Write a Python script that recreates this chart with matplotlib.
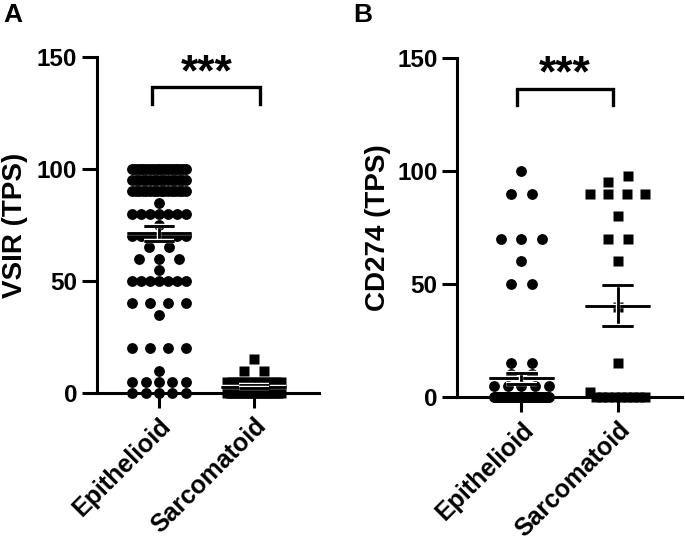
import numpy as np
import matplotlib.pyplot as plt
import matplotlib.patheffects as pe

plt.rcParams['font.family'] = ['Liberation Sans', 'DejaVu Sans']
plt.rcParams['font.weight'] = 'bold'

groups = ['Epithelioid', 'Sarcomatoid']

# TPS values (level -> number of cases)
vsir_epi_levels = [100, 95, 90, 85, 80, 75, 70, 65, 60, 55, 50, 40, 35, 20, 10, 5, 0]
vsir_epi_counts = [20, 16, 16, 1, 7, 1, 7, 2, 3, 1, 7, 4, 1, 4, 1, 5, 5]
vsir_sarc_levels = [15, 10, 5, 0]
vsir_sarc_counts = [1, 2, 12, 20]

cd274_epi_levels = [100, 90, 70, 60, 50, 15, 10, 5, 0]
cd274_epi_counts = [1, 2, 3, 1, 2, 2, 2, 5, 70]
cd274_sarc_levels = [95, 98, 90, 80, 70, 60, 40, 15, 2, 0]
cd274_sarc_counts = [1, 1, 4, 1, 2, 1, 1, 1, 1, 9]


def spread(values, center, tol=3.5, width=0.57, step=0.21):
    # group near-equal values into rows and spread them sideways,
    # keeping the original order inside a row
    vals = np.asarray(values, dtype=float)
    order = np.argsort(vals, kind='stable')
    v = vals[order]
    xs, ys = [], []
    i = 0
    while i < len(v):
        j = i
        while j + 1 < len(v) and v[j + 1] - v[i] < tol:
            j += 1
        row = vals[np.sort(order[i:j + 1])]
        n = len(row)
        d = step if n < 2 else min(step, width / (n - 1))
        xs.extend(center + (np.arange(n) - (n - 1) / 2) * d)
        ys.extend(row)
        i = j + 1
    return np.array(xs), np.array(ys)


def panel(ax, data, markers, ylabel, xlim, bracket, label_x):
    outline = [pe.withStroke(linewidth=3.2, foreground='white'), pe.Normal()]
    for k, (vals, mk) in enumerate(zip(data, markers)):
        xs, ys = spread(vals, k)
        ax.plot(xs, ys, mk, color='black', ms=7.8 if mk == 'o' else 7.4,
                mec='none', clip_on=False, zorder=3)
        m = np.mean(vals)
        se = np.std(vals, ddof=1) / np.sqrt(len(vals))
        for seg in ([(k - 0.34, k + 0.34), (m, m)],
                    [(k, k), (m - se, m + se)],
                    [(k - 0.16, k + 0.16), (m + se, m + se)],
                    [(k - 0.16, k + 0.16), (m - se, m - se)]):
            ax.plot(*seg, color='black', lw=1.8, solid_capstyle='butt',
                    path_effects=outline, clip_on=False, zorder=4)

    x0, x1 = bracket
    ax.plot([x0, x0, x1, x1], [129, 136.5, 136.5, 129], color='black', lw=2.4,
            solid_joinstyle='miter', clip_on=False)
    ax.text((x0 + x1) / 2, 137.5, '***', ha='center', va='baseline',
            fontsize=32, fontweight='bold')

    ax.set_xlim(*xlim)
    ax.set_ylim(0, 150)
    ax.set_yticks([0, 50, 100, 150])
    ax.set_xticks([0, 1])
    ax.set_xticklabels(groups, rotation=45, ha='right', va='top',
                       rotation_mode='anchor')
    ax.set_ylabel(ylabel, fontsize=20, fontweight='bold')
    ax.yaxis.set_label_coords(label_x, 0.5)
    for s in ['top', 'right']:
        ax.spines[s].set_visible(False)
    for s in ['left', 'bottom']:
        ax.spines[s].set_linewidth(2.2)
    ax.tick_params(axis='both', length=11, width=2.2, pad=3)
    ax.tick_params(axis='y', labelsize=17.5)
    ax.tick_params(axis='x', labelsize=18, pad=4)
    for t in ax.get_xticklabels() + ax.get_yticklabels():
        t.set_fontweight('bold')


fig = plt.figure(figsize=(6.85, 5.41), dpi=100)

axA = fig.add_axes([0.1409, 0.2736, 0.3248, 0.6210])
vsir = [np.repeat(vsir_epi_levels, vsir_epi_counts),
        np.repeat(vsir_sarc_levels, vsir_sarc_counts)]
panel(axA, vsir, ['o', 's'], 'VSIR (TPS)', (-0.66, 1.69), (-0.07, 1.07), -0.31)

axB = fig.add_axes([0.6672, 0.2662, 0.3285, 0.6266])
cd274 = [np.repeat(cd274_epi_levels, cd274_epi_counts),
         np.repeat(cd274_sarc_levels, cd274_sarc_counts)]
panel(axB, cd274, ['o', 's'], 'CD274 (TPS)', (-0.67, 1.67), (-0.05, 0.95), -0.292)

fig.text(0.005, 0.995, 'A', fontsize=19, fontweight='bold', va='top', ha='left')
fig.text(0.516, 0.995, 'B', fontsize=19, fontweight='bold', va='top', ha='left')

fig.savefig('out.png', dpi=100)
